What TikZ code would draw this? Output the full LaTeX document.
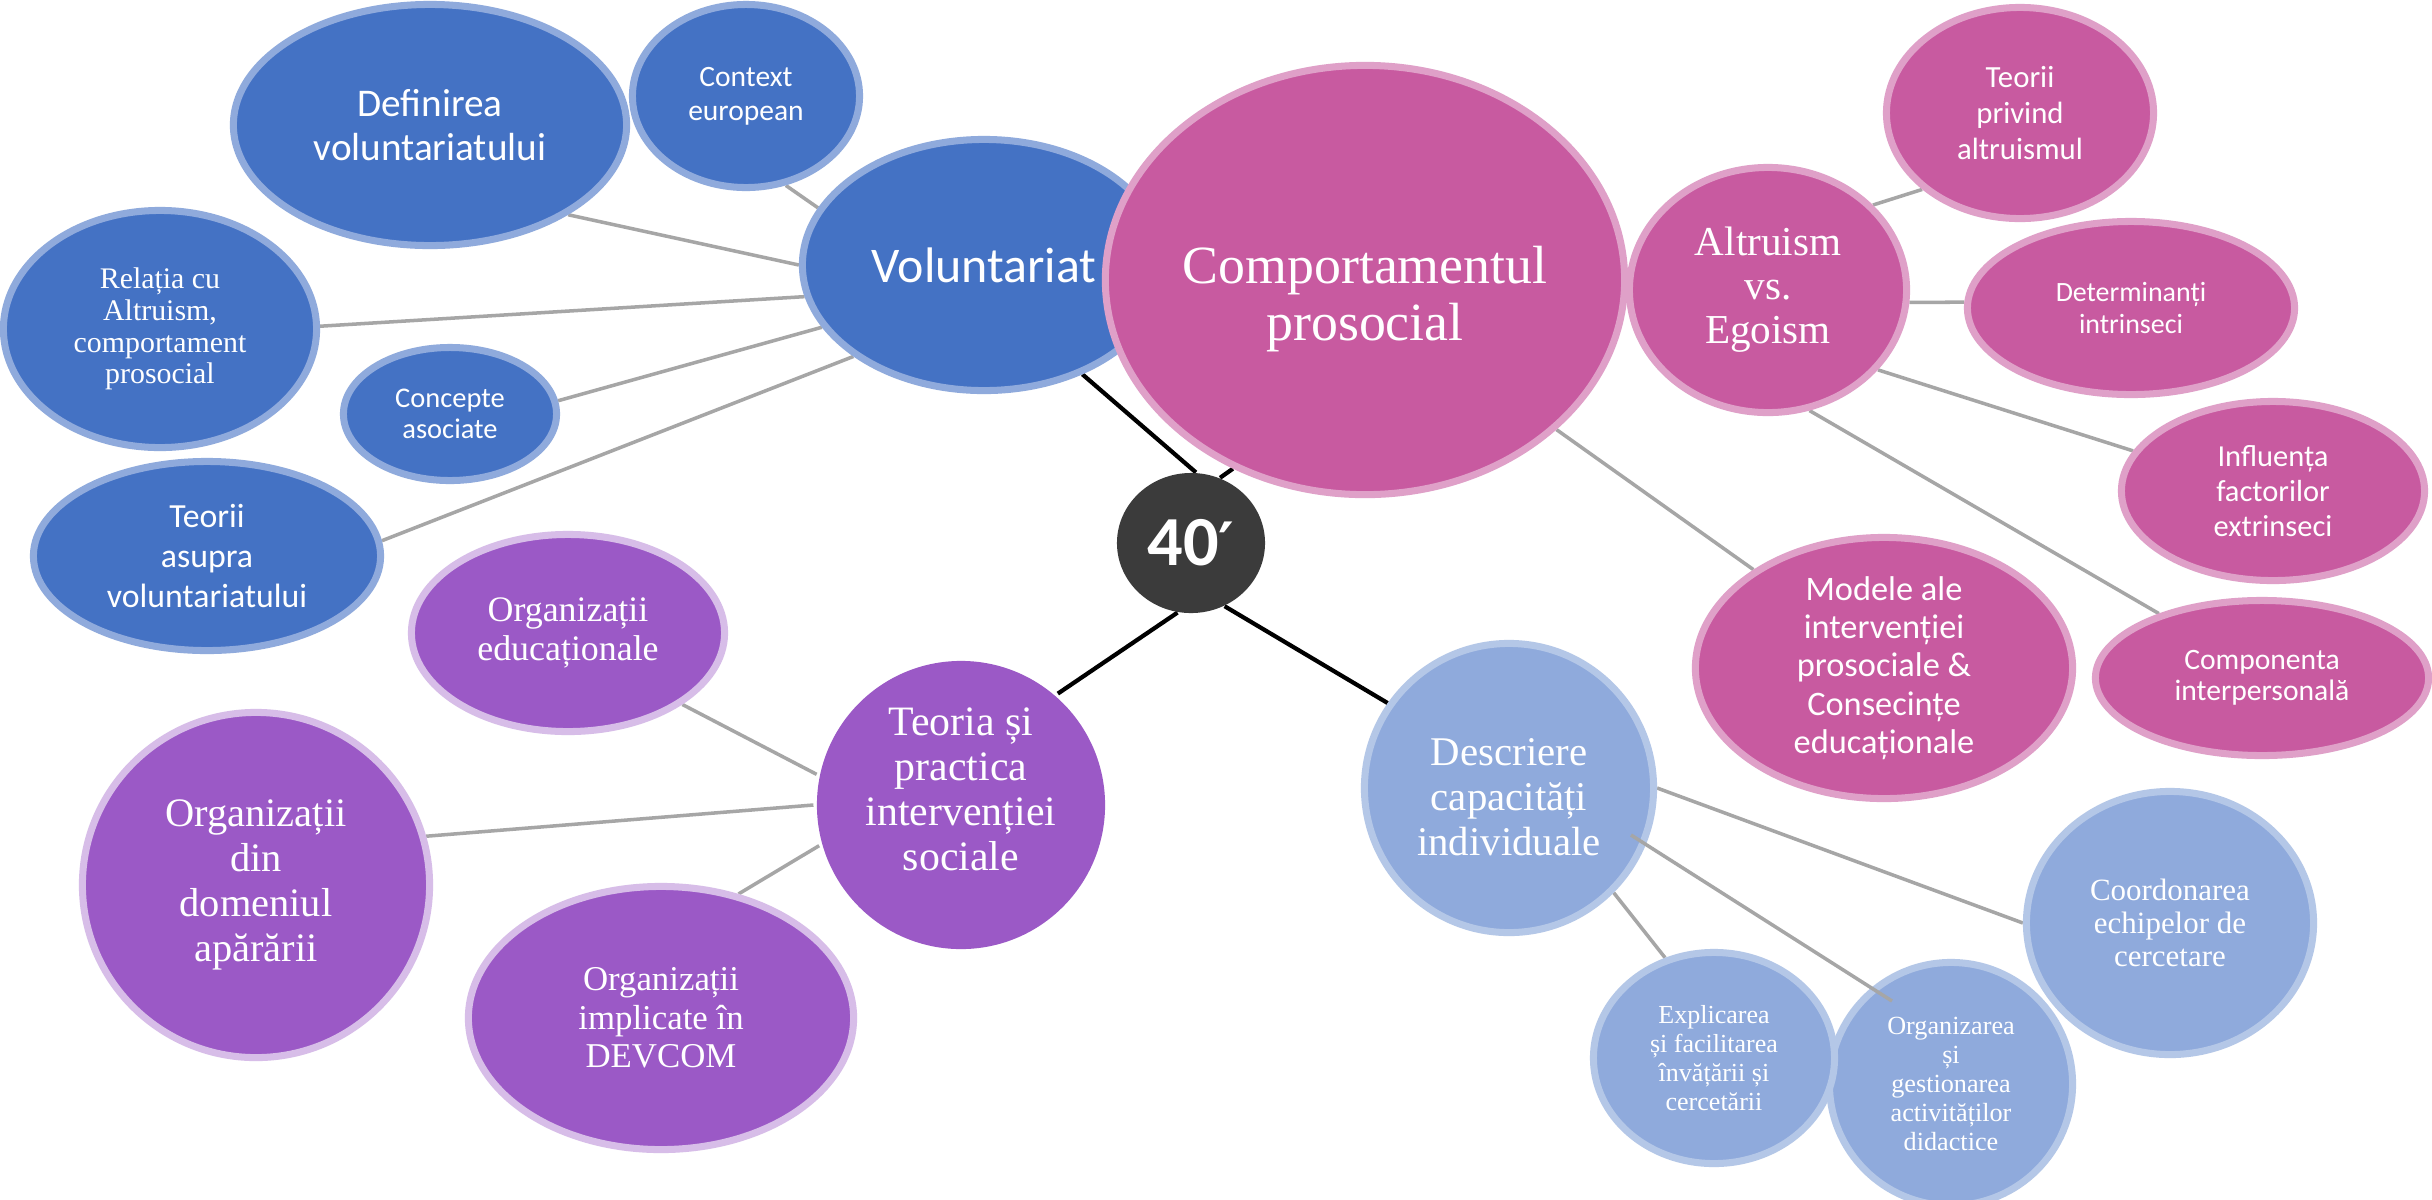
\documentclass[tikz,border=0pt]{standalone}
\usepackage{fontspec}
\usetikzlibrary{shapes.geometric,backgrounds,calc}
\newfontfamily\sansf{Carlito}
\newfontfamily\serf{Liberation Serif}
\newfontfamily\djv{DejaVu Sans}
\definecolor{cBlue}{HTML}{4472C4}
\definecolor{cBlueL}{HTML}{8FAADC}
\definecolor{cPink}{HTML}{C85AA0}
\definecolor{cPinkL}{HTML}{DFA0C8}
\definecolor{cPurp}{HTML}{9B59C6}
\definecolor{cPurpL}{HTML}{D7BDE8}
\definecolor{cLBlue}{HTML}{8FAADC}
\definecolor{cLBlueL}{HTML}{B4C7E7}
\definecolor{cDark}{HTML}{3B3B3B}
\definecolor{cLine}{HTML}{A6A6A6}
\pgfdeclarelayer{bgzero}
\pgfsetlayers{bgzero,background,main}
\newcommand{\ssz}[2]{\sansf\fontsize{#1}{#2}\selectfont}
\newcommand{\rsz}[2]{\serf\fontsize{#1}{#2}\selectfont}
\newcommand{\shifted}[2]{\raisebox{#1}[0pt][0pt]{\begin{tabular}{@{}c@{}}#2\end{tabular}}}
\tikzset{
  bubble/.style={ellipse, inner sep=0pt, line width=2pt, text=white, align=center},
  darkblue/.style={bubble, fill=cBlue, draw=cBlueL},
  pinkb/.style={bubble, fill=cPink, draw=cPinkL},
  purpb/.style={bubble, fill=cPurp, draw=cPurpL},
  lblue/.style={bubble, fill=cLBlue, draw=cLBlueL},
  sz/.style 2 args={minimum width=#1cm, minimum height=#2cm},
  link/.style={draw=cLine, line width=1pt},
  hub/.style={draw=black, line width=1.2pt}
}
\begin{document}
\begin{tikzpicture}[x=0.01cm, y=-0.01cm]
\begin{pgfonlayer}{bgzero}
\fill[white] (0,0) rectangle (2432,1199);
\end{pgfonlayer}
\useasboundingbox (0,0) rectangle (2432,1199);

% blue group
\node[darkblue, sz={3.93}{2.41}, font=\ssz{11.15}{12.6}] (defn) at (430,125) {Definirea\\voluntariatului};
\node[darkblue, sz={2.27}{1.83}, font=\ssz{8.4}{9.6}] (ctx) at (746,96) {Context\\european};
\node[darkblue, sz={3.63}{2.51}, font=\ssz{14.2}{16}] (vol) at (984,265) {Voluntariat};
\node[darkblue, sz={3.13}{2.37}, font=\rsz{8.5}{9.05}] (rel) at (160,329) {Relația cu\\Altruism,\\comportament\\prosocial};
\node[darkblue, sz={2.13}{1.33}, font=\ssz{8.1}{8.9}] (conc) at (450,414) {Concepte\\asociate};
\node[darkblue, sz={3.47}{1.89}, font=\ssz{9.6}{11.45}] (teov) at (207,556) {Teorii\\asupra\\voluntariatului};

% pink group
\node[pinkb, sz={5.19}{4.29}, font=\rsz{15.3}{16.1}] (comp) at (1365,280) {\shifted{-0.33cm}{Comportamentul\\prosocial}};
\node[pinkb, sz={2.77}{2.45}, font=\rsz{11.7}{12.5}] (alt) at (1768,290) {Altruism\\vs.\\Egoism};
\node[pinkb, sz={2.67}{2.11}, font=\ssz{8.75}{10.1}] (tpa) at (2020,113) {Teorii\\privind\\altruismul};
\node[pinkb, sz={3.27}{1.73}, font=\ssz{7.94}{9.05}] (det) at (2131,308) {Determinanți\\intrinseci};
\node[pinkb, sz={3.03}{1.79}, font=\ssz{8.67}{10}] (inf) at (2273,491) {Influența\\factorilor\\extrinseci};
\node[pinkb, sz={3.33}{1.55}, font=\ssz{8.42}{8.9}] (cmpi) at (2262,678) {Componenta\\interpersonală};
\node[pinkb, sz={3.77}{2.61}, font=\ssz{9.77}{10.9}] (mod) at (1884,668) {Modele ale\\intervenției\\prosociale \&\\Consecințe\\educaționale};

% purple group
\node[purpb, sz={3.13}{1.97}, font=\rsz{10.2}{11.1}] (orged) at (568,633) {Organizații\\educaționale};
\node[purpb, sz={3.47}{3.45}, font=\rsz{11.5}{12.8}] (orgap) at (256,885) {Organizații\\din\\domeniul\\apărării};
\node[purpb, sz={3.85}{2.63}, font=\rsz{9.9}{10.9}] (dev) at (661,1018) {Organizații\\implicate în\\DEVCOM};
\node[purpb, draw=none, sz={2.88}{2.88}, font=\rsz{11.9}{12.8}] (teo) at (961,805) {\shifted{0pt}{Teoria și\\practica\\intervenției\\sociale}};

% light blue group
\node[lblue, sz={2.89}{2.89}, font=\rsz{11.6}{12.7}] (desc) at (1509,788) {\shifted{-0.24cm}{Descriere\\capacități\\individuale}};
\node[lblue, sz={2.43}{2.43}, font=\rsz{7.45}{8.2}] (orgz) at (1951,1084) {Organizarea\\și\\gestionarea\\activităților\\didactice};
\node[lblue, sz={2.41}{2.11}, font=\rsz{7.4}{8.2}] (expl) at (1714,1058) {Explicarea\\și facilitarea\\învățării și\\cercetării};
\node[lblue, sz={2.87}{2.63}, font=\rsz{8.8}{9.4}] (coord) at (2170,923) {Coordonarea\\echipelor de\\cercetare};

% centre
\node[ellipse, inner sep=0pt, fill=cDark, text=white, minimum width=1.48cm, minimum height=1.40cm, font={\sansf\bfseries\fontsize{20}{22}\selectfont}] (f40) at (1191,543) {40{\djv\bfseries\fontsize{17}{20}\selectfont ′}};

\begin{pgfonlayer}{background}
\draw[link] (vol.161) -- (ctx.294);
\draw[link] (vol.180) -- (defn.-33);
\draw[link] (vol.190) -- (rel.1);
\draw[link] (vol.201) -- (conc.7);
\draw[link] (vol.215) -- (teov.5);
\draw[link] (comp.322) -- (mod.143);
\draw[link] (alt.39) -- (tpa.218);
\draw[link] (alt.355) -- (det.178);
\draw[link] (alt.324) -- (inf.164);
\draw[link] (alt.289) -- (cmpi.148);
\draw[link] (teo.168) -- (orged.328);
\draw[link] (teo.180) -- (orgap.16);
\draw[link] (teo.196) -- (dev.58);
\draw[link] (desc.0) -- (coord.180);
\draw[link] (desc.315) -- (expl.116);
\draw[hub] (vol.312) -- (f40.86);
\draw[hub] (f40.66) -- (comp.235);
\draw[hub] (f40.259) -- (teo.49);
\draw[hub] (f40.298) -- (desc.145);
\end{pgfonlayer}
\draw[link] ($(desc)+(122,47)$) -- ($(orgz)+(-59,-83)$);
\end{tikzpicture}
\end{document}
